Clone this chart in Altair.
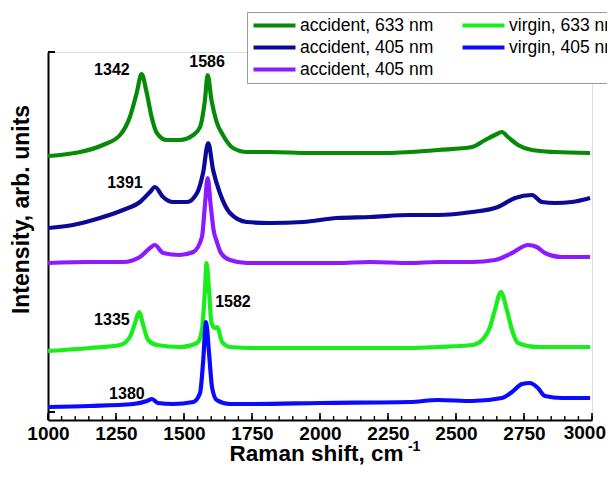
import altair as alt
import pandas as pd

# ---- series (Raman shift, cm-1 ; intensity, arb. units, vertically offset) ----
acc633_x = [1000, 1044, 1118, 1202, 1265, 1301, 1326, 1344, 1363, 1381, 1400, 1436, 1485, 1534, 1559,
            1577, 1587, 1601, 1620, 1643, 1680, 1731, 1816, 1963, 2062, 2184, 2246, 2331, 2434, 2559,
            2607, 2643, 2669, 2691, 2728, 2779, 2864, 2993]
acc633_y = [264, 265, 268, 275, 285, 303, 327, 346, 327, 303, 287, 280, 280, 285, 293,
            320, 345, 320, 298, 285, 272, 268, 268, 267, 267, 267, 267, 268, 270, 273,
            280, 285, 288, 283, 275, 270, 268, 267]

acc405_x = [1000, 1092, 1191, 1276, 1338, 1375, 1393, 1423, 1460, 1511, 1548, 1570, 1589, 1607, 1632,
            1669, 1731, 1816, 1938, 2062, 2184, 2331, 2434, 2559, 2654, 2717, 2779, 2816, 2864, 2926, 2993]
acc405_y = [192, 195, 202, 210, 218, 228, 233, 223, 218, 218, 227, 247, 277, 250, 227,
            207, 198, 197, 198, 202, 203, 205, 205, 208, 213, 222, 225, 218, 217, 218, 222]

acc405b_x = [1000, 1154, 1276, 1338, 1375, 1393, 1423, 1485, 1534, 1566, 1577, 1587, 1598, 1610, 1620,
             1636, 1669, 1731, 1878, 2062, 2184, 2331, 2434, 2559, 2643, 2706, 2765, 2797, 2827, 2889, 2993]
acc405b_y = [157, 158, 158, 163, 172, 175, 167, 165, 168, 183, 215, 242, 215, 188, 179,
             167, 160, 157, 157, 157, 158, 157, 158, 158, 160, 167, 175, 173, 167, 163, 163]

vir633_x = [1000, 1154, 1265, 1301, 1320, 1335, 1350, 1368, 1400, 1485, 1548, 1566, 1577, 1583, 1592,
            1601, 1614, 1622, 1640, 1669, 1754, 2000, 2331, 2434, 2559, 2596, 2625, 2643, 2665, 2687,
            2706, 2728, 2801, 2993]
vir633_y = [69, 72, 75, 83, 97, 108, 95, 80, 75, 73, 77, 90, 130, 157, 130,
            97, 92, 93, 78, 73, 72, 72, 72, 73, 75, 80, 93, 110, 128, 110,
            90, 77, 73, 73]

vir405_x = [1000, 1154, 1313, 1364, 1382, 1404, 1460, 1534, 1559, 1570, 1581, 1592, 1603, 1620, 1669,
            1754, 2000, 2331, 2434, 2559, 2669, 2706, 2743, 2772, 2801, 2827, 2889, 2993]
vir405_y = [13, 14, 16, 19, 21, 17, 16, 18, 27, 57, 98, 67, 33, 20, 16,
            16, 17, 18, 20, 19, 22, 28, 36, 37, 32, 24, 22, 22]

# legend order (filled column by column, two columns)
series_keys = ["a633", "a405", "a405b", "v633", "v405"]
series_labels = ["accident, 633 nm", "accident, 405 nm", "accident, 405 nm", "virgin, 633 nm", "virgin, 405 nm"]
series_colors = ["#078a07", "#0a0a96", "#8c1aff", "#1aee1a", "#0a0aff"]
series_widths = [4.2, 4.2, 3.8, 3.4, 2.2]

# peak annotations
ann_text = ["1342", "1586", "1391", "1335", "1582", "1380"]
ann_x = [1235, 1585, 1283, 1235, 1680, 1290]
ann_y = [350, 358, 237, 100, 118, 26]

# axis ticks
major_ticks = [1000, 1250, 1500, 1750, 2000, 2250, 2500, 2750, 3000]
minor_ticks = list(range(1000, 3001, 50))
y_ticks = [8, 368]
last_tick = [3000]

rows = []
for key, xs, ys in [("a633", acc633_x, acc633_y), ("a405", acc405_x, acc405_y),
                    ("a405b", acc405b_x, acc405b_y), ("v633", vir633_x, vir633_y),
                    ("v405", vir405_x, vir405_y)]:
    for xv, yv in zip(xs, ys):
        rows.append({"series": key, "shift": xv, "intensity": yv})
df = pd.DataFrame(rows)

FONT = "Liberation Sans"
W, H = 544, 368
LABEL_PAD = 4

xscale = alt.Scale(domain=[1000, 3000], nice=False, zero=False)
yscale = alt.Scale(domain=[0, 368], nice=False, zero=False)

label_expr = " : ".join(
    [f"datum.label == '{k}' ? '{l}'" for k, l in zip(series_keys, series_labels)]
) + " : datum.label"

lines = alt.Chart(df).mark_line(clip=True, interpolate="monotone").encode(
    x=alt.X("shift:Q", scale=xscale,
            axis=alt.Axis(values=major_ticks, format="d", ticks=False, tickSize=0, grid=False,
                          labelExpr="datum.value == 3000 ? '' : datum.label",
                          labelFontSize=19, labelFontWeight="bold", labelColor="black", labelFont=FONT,
                          labelPadding=LABEL_PAD, labelFlush=False,
                          domainColor="black", domainWidth=2,
                          title="Raman shift, cm", titleFontSize=22.5, titleFontWeight="bold",
                          titleFont=FONT, titleColor="black", titleX=268, titleY=40,
                          titleBaseline="alphabetic")),
    y=alt.Y("intensity:Q", scale=yscale,
            axis=alt.Axis(labels=False, ticks=False, grid=False, domainColor="black", domainWidth=2,
                          title="Intensity, arb. units", titleFontSize=23, titleFontWeight="bold",
                          titleFont=FONT, titleColor="black", titlePadding=15, titleY=157)),
    color=alt.Color("series:N", scale=alt.Scale(domain=series_keys, range=series_colors),
                    legend=alt.Legend(orient="none", legendX=199, legendY=-40, columns=2,
                                      title=None, symbolType="stroke", symbolSize=1764,
                                      symbolStrokeWidth=2.5, labelFontSize=17.5, labelFont=FONT,
                                      labelColor="black", labelExpr=label_expr, labelOffset=2,
                                      strokeColor="#9a9a9a", fillColor="white", padding=4,
                                      clipHeight=19, columnPadding=26, rowPadding=3)),
    strokeWidth=alt.StrokeWidth("series:N", scale=alt.Scale(domain=series_keys, range=series_widths),
                                legend=None),
    detail="series:N",
)

ann_df = pd.DataFrame({"shift": ann_x, "intensity": ann_y, "label": ann_text})
ann = alt.Chart(ann_df).mark_text(fontSize=16, fontWeight="bold", font=FONT, color="black").encode(
    x="shift:Q", y="intensity:Q", text="label:N")

# last tick label, kept inside the page
last_df = pd.DataFrame({"shift": last_tick, "label": ["3000"]})
last_lbl = alt.Chart(last_df).mark_text(fontSize=19, fontWeight="bold", font=FONT, color="black",
                                        align="right", baseline="top", dx=14).encode(
    x="shift:Q", y=alt.value(H + LABEL_PAD), text="label:N")

sup_df = pd.DataFrame({"shift": [2346], "label": ["-1"]})
sup = alt.Chart(sup_df).mark_text(fontSize=14, fontWeight="bold", font=FONT, color="black").encode(
    x="shift:Q", y=alt.value(H + 27), text="label:N")

maj_df = pd.DataFrame({"shift": major_ticks})
maj = alt.Chart(maj_df).mark_rule(color="black", strokeWidth=1.6).encode(
    x="shift:Q", y=alt.value(H), y2=alt.value(H - 7))
min_df = pd.DataFrame({"shift": minor_ticks})
mnr = alt.Chart(min_df).mark_rule(color="black", strokeWidth=1.4).encode(
    x="shift:Q", y=alt.value(H), y2=alt.value(H - 4))
yt_df = pd.DataFrame({"intensity": y_ticks})
ytk = alt.Chart(yt_df).mark_rule(color="black", strokeWidth=2).encode(
    y="intensity:Q", x=alt.value(0), x2=alt.value(7))

chart = alt.layer(lines, mnr, maj, ytk, ann, last_lbl, sup).properties(
    width=W, height=H,
    autosize=alt.AutoSizeParams(type="none"),
    padding={"left": 40, "top": 44, "right": 15, "bottom": 45},
).configure_view(stroke=None).configure(font=FONT)

chart.save("out.html", embed_options={"renderer": "svg", "actions": False})
